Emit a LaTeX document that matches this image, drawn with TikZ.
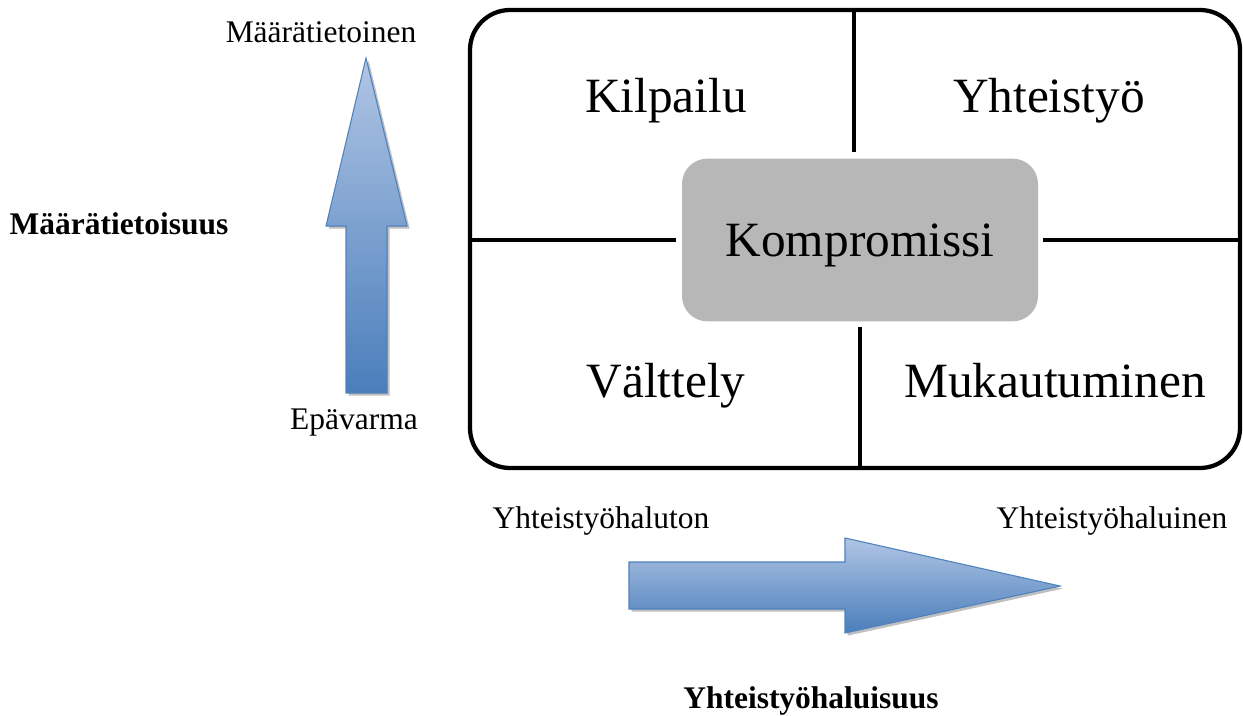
\documentclass[tikz,border=0pt]{standalone}
\usepackage{fontspec}
\setmainfont{Liberation Serif}
\usetikzlibrary{shadows}
\definecolor{arrlight}{HTML}{B0C5E4}
\definecolor{arrdark}{HTML}{4A7EBB}
\definecolor{arredge}{HTML}{4F81BD}
\definecolor{compgray}{HTML}{B7B7B7}
\tikzset{
  lbl/.style={inner sep=0pt, anchor=base, font=\fontsize{23.6}{28}\selectfont},
  lblb/.style={inner sep=0pt, anchor=base, font=\fontsize{23.6}{28}\selectfont\bfseries},
  quad/.style={inner sep=0pt, anchor=base, font=\fontsize{37}{44}\selectfont},
  divider/.style={line width=3pt, black},
  arrowshape/.style={draw=arredge, line width=0.8pt, top color=arrlight, bottom color=arrdark,
     drop shadow={shadow xshift=2pt, shadow yshift=-2pt, opacity=0.25, fill=black}},
}
\begin{document}
\begin{tikzpicture}[x=0.75pt,y=-0.75pt]
\useasboundingbox (0,0) rectangle (1243,716);
% outer box
\draw[line width=3.2pt, rounded corners=30pt] (470,10) rectangle (1240,468);
% center box
\node[fill=compgray, rounded corners=19pt, minimum width=267pt, minimum height=122pt, inner sep=0pt] (komp) at (860,240) {};
\node[quad] (kompt) at (860,257) {Kompromissi};
% dividers
\coordinate (tA) at (854,10);
\coordinate (tB) at (854,152);
\coordinate (bA) at (860,327);
\coordinate (bB) at (860,468);
\coordinate (lA) at (470,240);
\coordinate (lB) at (676,240);
\coordinate (rA) at (1043,240);
\coordinate (rB) at (1240,240);
\draw[divider] (tA) -- (tB);
\draw[divider] (bA) -- (bB);
\draw[divider] (lA) -- (lB);
\draw[divider] (rA) -- (rB);
% quadrant labels
\node[quad] (kil) at (666,113) {Kilpailu};
\node[quad] (yht) at (1049,113) {Yhteistyö};
\node[quad] (val) at (666,398) {Välttely};
\node[quad] (muk) at (1055,398) {Mukautuminen};
% up arrow
\path[arrowshape] (366,58) -- (407,226) -- (387,226) -- (387,393) -- (346,393) -- (346,226) -- (326,226) -- cycle;
% right arrow
\path[arrowshape] (629,562) -- (845,562) -- (845,538) -- (1060,586) -- (845,633) -- (845,609) -- (629,609) -- cycle;
% labels
\node[lbl] (maar) at (321,43) {Määrätietoinen};
\node[lbl] (epa) at (354,430) {Epävarma};
\node[lblb] (maarsuus) at (119,235) {Määrätietoisuus};
\node[lbl] (ylt) at (601,528) {Yhteistyöhaluton};
\node[lbl] (yli) at (1112,528) {Yhteistyöhaluinen};
\node[lblb] (ylsuus) at (811,708) {Yhteistyöhaluisuus};
\end{tikzpicture}
\end{document}
